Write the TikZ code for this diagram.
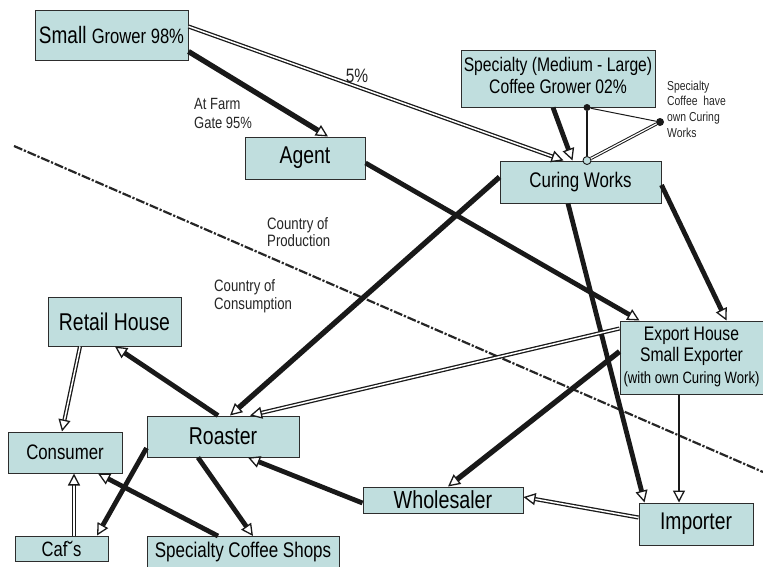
\documentclass[tikz,border=0pt]{standalone}
\usepackage{fontspec}
\usepackage{graphicx}
\setmainfont{Liberation Sans}
\usetikzlibrary{arrows.meta}
\definecolor{boxfill}{RGB}{192,222,222}
\definecolor{boxline}{RGB}{45,45,45}
\newcommand{\vs}[1]{\scalebox{1}[1.25]{#1}}
\newcommand{\fs}[2]{\fontsize{#1}{#2}\selectfont}
\begin{document}
\begin{tikzpicture}[x=1pt,y=-1pt,
  box/.style={draw=boxline, line width=1pt, fill=boxfill, inner sep=0pt, align=center},
  lbl/.style={inner sep=0pt, align=left, text=black!85},
  arr/.style={-{Triangle[fill=white,length=12pt,width=12pt,line width=1.3pt]}},
  heavy/.style={line width=4.8pt, draw=black!90, arr},
  midline/.style={line width=2.8pt, draw=black!90, arr},
  dbl/.style={line width=1.3pt, draw=black!90, double=white, double distance=1.5pt, arr},
  dotnode/.style={circle, fill=black!90, inner sep=0pt, minimum size=#1},
  ring/.style={circle, draw=black!90, line width=0.9pt, inner sep=0pt, minimum size=8pt}
]
\useasboundingbox (0,0) rectangle (763,566);

% border line between countries
\coordinate (dlA) at (14,146);
\coordinate (dlB) at (763,472);
\draw[line width=2.2pt, black!85, dash pattern=on 9pt off 1.8pt on 2.2pt off 1.8pt] (dlA) -- (dlB);

% boxes
\node[box, minimum width=153pt, minimum height=50pt] (SG) at (111.5,35)
  {\vs{\fs{19}{21}Small \fs{16.6}{19}Grower 98\%}};
\node[box, minimum width=120pt, minimum height=42pt] (Agent) at (305,158)
  {\vs{\fs{19.4}{22}Agent}};
\node[box, minimum width=194pt, minimum height=57pt] (Spec) at (558,78.5)
  {\vs{\fs{15.7}{17.4}\begin{tabular}{@{}c@{}}Specialty (Medium - Large)\\Coffee Grower 02\%\end{tabular}}};
\node[box, minimum width=161pt, minimum height=42pt] (Cure) at (580.5,182)
  {\vs{\fs{16.9}{19}Curing Works}};
\node[box, minimum width=143pt, minimum height=73pt] (Export) at (691.5,357.5)
  {\vs{\fs{15.7}{17.3}\begin{tabular}{@{}c@{}}Export House\\Small Exporter\\{\fs{13.1}{14.5}(with own Curing Work)}\end{tabular}}};
\node[box, minimum width=133pt, minimum height=49pt] (Retail) at (114.5,321.5)
  {\vs{\fs{19.4}{22}Retail House}};
\node[box, minimum width=114pt, minimum height=41pt] (Consumer) at (65,452.5)
  {\vs{\fs{16.8}{19}Consumer}};
\node[box, minimum width=152pt, minimum height=41pt] (Roaster) at (223,436.5)
  {\vs{\fs{19.5}{22}Roaster}};
\node[box, minimum width=93pt, minimum height=25pt] (Cafs) at (61.5,548.5)
  {\vs{\fs{16.6}{19}Caf˘s}};
\node[box, minimum width=192pt, minimum height=36pt, anchor=north] (SCS) at (243,536)
  {};
\node[inner sep=0pt] (SCSt) at (243,551.5) {\vs{\fs{17}{19}Specialty Coffee Shops}};
\node[box, minimum width=160pt, minimum height=26pt] (Whole) at (443,500)
  {\vs{\fs{19.7}{22}Wholesaler}};
\node[box, minimum width=114pt, minimum height=42pt] (Importer) at (696,524)
  {\vs{\fs{19.3}{22}Importer}};

% free labels
\node[lbl, anchor=west] (farm) at (194,115.5)
  {\vs{\fs{13}{15.2}\begin{tabular}{@{}l@{}}At Farm\\Gate 95\%\end{tabular}}};
\node[lbl] (five) at (357,76) {\vs{\fs{15.5}{17}5\%}};
\node[lbl, anchor=west] (prod) at (267,234.5)
  {\vs{\fs{13.2}{14}\begin{tabular}{@{}l@{}}Country of\\Production\end{tabular}}};
\node[lbl, anchor=west] (cons) at (214,297)
  {\vs{\fs{13.2}{14}\begin{tabular}{@{}l@{}}Country of\\Consumption\end{tabular}}};
\node[lbl, anchor=west] (own) at (667,110.5)
  {\vs{\fs{10.4}{12.5}\begin{tabular}{@{}l@{}}Specialty\\Coffee\ \ have\\own Curing\\Works\end{tabular}}};

% specialty own curing works markers
\node[dotnode=7pt] (dL) at ([xshift=29pt]Spec.south) {};
\node[dotnode=8pt] (dR) at (660,122) {};
\node[ring, fill=boxfill] (cC) at ([xshift=6.5pt]Cure.north) {};
\draw[line width=2.2pt, black!90] (dL) -- (cC);
\draw[line width=1pt, black!90] (dL) -- (dR);
\draw[line width=1pt, black!90, double=white, double distance=1.2pt] (dR) -- (cC);

% connectors
\draw[heavy, line width=5.3pt] ([yshift=9pt]SG.south east) -- ([xshift=23pt]Agent.north);
\draw[dbl] ([yshift=-17pt]SG.north east) -- ([xshift=-17pt]Cure.north);
\draw[heavy] ([xshift=-5pt]Spec.south) -- ([xshift=-8pt]Cure.north);
\draw[heavy] ([yshift=-5pt]Agent.east) -- ([xshift=20pt]Export.north west);
\draw[heavy] ([yshift=-3pt]Cure.east) -- ([xshift=107pt]Export.north west);
\draw[heavy, line width=5.3pt] ([yshift=5pt]Cure.west) -- ([xshift=7pt]Roaster.north);
\draw[heavy] ([xshift=-12.5pt]Cure.south) -- ([xshift=6pt]Importer.north west);
\draw[dbl] ([yshift=-8pt]Export.north west) -- ([xshift=27pt]Roaster.north);
\draw[heavy, line width=5.3pt] ([yshift=-31pt]Export.north west) -- ([xshift=5pt]Whole.north);
\draw[midline] ([xshift=-12.5pt]Export.south) -- ([xshift=-17pt]Importer.north);
\draw[dbl] ([yshift=-15pt]Importer.north west) -- ([yshift=3pt]Whole.east);
\draw[heavy] ([yshift=-3pt]Whole.west) -- ([xshift=25pt]Roaster.south);
\draw[heavy] ([xshift=-5pt]Roaster.north) -- ([xshift=0.5pt]Retail.south);
\draw[dbl] ([xshift=-34.5pt]Retail.south) -- ([xshift=-3pt]Consumer.north);
\draw[heavy] ([yshift=-11.5pt]Roaster.west) -- ([xshift=35.5pt]Cafs.north);
\draw[heavy] ([xshift=-25pt]Roaster.south) -- ([xshift=10pt]SCS.north);
\draw[heavy] ([xshift=-25pt]SCS.north) -- ([xshift=33pt]Consumer.south);
\draw[dbl] ([xshift=12.5pt]Cafs.north) -- ([xshift=9pt]Consumer.south);
\end{tikzpicture}
\end{document}
